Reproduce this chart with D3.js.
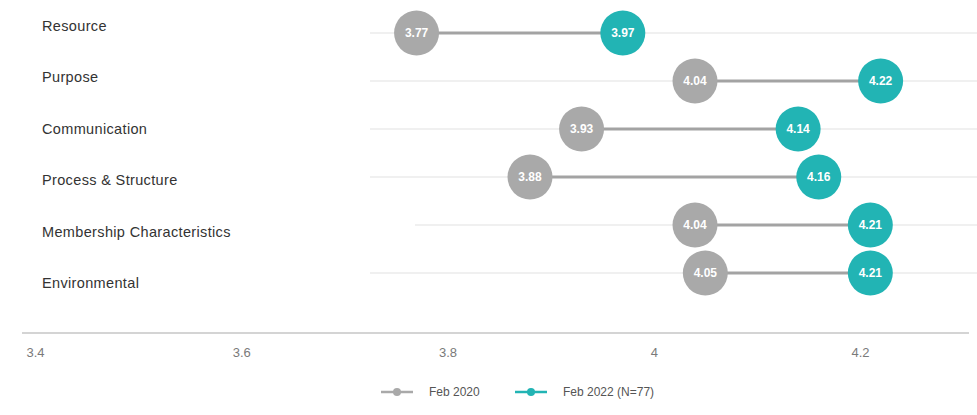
<!DOCTYPE html>
<html>
<head>
<meta charset="utf-8">
<script src="https://cdn.jsdelivr.net/npm/d3@7/dist/d3.min.js"></script>
<style>
  html, body { margin: 0; padding: 0; background: #ffffff; }
  svg { display: block; }
</style>
</head>
<body>
<svg id="chart" width="977" height="415"></svg>
<script>
// Survey dimensions and their mean scores in the two waves
const categories = ["Resource", "Purpose", "Communication", "Process & Structure", "Membership Characteristics", "Environmental"];
const feb2020 = [3.77, 4.04, 3.93, 3.88, 4.04, 4.05];
const feb2022 = [3.97, 4.22, 4.14, 4.16, 4.21, 4.21];
const tickValues = [3.4, 3.6, 3.8, 4.0, 4.2];
const seriesNames = ["Feb 2020", "Feb 2022 (N=77)"];

const GREY = "#a9a9a9";
const TEAL = "#22b4b4";

const svg = d3.select("#chart");
const W = 977;

const x = d3.scaleLinear().domain([3.4, 4.2]).range([35, 860]);
const rowY = d3.scalePoint().domain(categories).range([33, 273]);
const labelY = d3.scalePoint().domain(categories).range([26, 283]);

const rows = categories.map((c, i) => ({ cat: c, a: feb2020[i], b: feb2022[i] }));

// category names
svg.append("g").selectAll("text").data(rows).join("text")
  .attr("x", 42)
  .attr("y", d => labelY(d.cat))
  .attr("dy", "0.35em")
  .attr("font-family", "Liberation Sans, Arial, sans-serif")
  .attr("font-size", 14.5)
  .attr("letter-spacing", 0.35)
  .attr("fill", "#333333")
  .text(d => d.cat);

// faint row guides
svg.append("g").selectAll("line").data(rows).join("line")
  .attr("x1", (d, i) => i === 4 ? 415 : 370)
  .attr("x2", W)
  .attr("y1", d => rowY(d.cat))
  .attr("y2", d => rowY(d.cat))
  .attr("stroke", "#ebebeb")
  .attr("stroke-width", 1.5);

// connectors between the two waves
svg.append("g").selectAll("line").data(rows).join("line")
  .attr("x1", d => x(d.a))
  .attr("x2", d => x(d.b))
  .attr("y1", d => rowY(d.cat))
  .attr("y2", d => rowY(d.cat))
  .attr("stroke", "#a3a3a3")
  .attr("stroke-width", 3);

function dots(cls, key, color) {
  const g = svg.append("g").attr("class", cls);
  g.selectAll("circle").data(rows).join("circle")
    .attr("cx", d => x(d[key]))
    .attr("cy", d => rowY(d.cat))
    .attr("r", 22.5)
    .attr("fill", color);
  g.selectAll("text").data(rows).join("text")
    .attr("x", d => x(d[key]))
    .attr("y", d => rowY(d.cat))
    .attr("dy", "0.36em")
    .attr("text-anchor", "middle")
    .attr("font-family", "Liberation Sans Narrow, Arial Narrow, sans-serif")
    .attr("font-weight", "bold")
    .attr("font-size", 12)
    .attr("fill", "#ffffff")
    .text(d => d3.format(".2f")(d[key]));
}
dots("w2020", "a", GREY);
dots("w2022", "b", TEAL);

// baseline and value axis
svg.append("line")
  .attr("x1", 22).attr("x2", 969)
  .attr("y1", 333).attr("y2", 333)
  .attr("stroke", "#d4d4d4")
  .attr("stroke-width", 2);

const axis = svg.append("g")
  .attr("transform", "translate(0,333)")
  .call(d3.axisBottom(x).tickValues(tickValues).tickSize(0).tickPadding(15).tickFormat(d3.format("~g")));
axis.select(".domain").remove();
axis.selectAll("text")
  .attr("font-family", "Liberation Sans Narrow, Arial Narrow, sans-serif")
  .attr("font-size", 13)
  .attr("fill", "#7a7a7a");

// legend
const legend = svg.append("g").attr("transform", "translate(0,392)");
const items = [
  { name: seriesNames[0], color: GREY, x0: 381 },
  { name: seriesNames[1], color: TEAL, x0: 515 }
];
items.forEach(it => {
  legend.append("line")
    .attr("x1", it.x0).attr("x2", it.x0 + 32)
    .attr("y1", 0).attr("y2", 0)
    .attr("stroke", it.color).attr("stroke-width", 2.5);
  legend.append("circle")
    .attr("cx", it.x0 + 16).attr("cy", 0).attr("r", 4)
    .attr("fill", it.color);
  legend.append("text")
    .attr("x", it.x0 + 48).attr("y", 0).attr("dy", "0.35em")
    .attr("font-family", "Liberation Sans Narrow, Arial Narrow, sans-serif")
    .attr("font-size", 12)
    .attr("fill", "#555555")
    .text(it.name);
});
</script>
</body>
</html>
